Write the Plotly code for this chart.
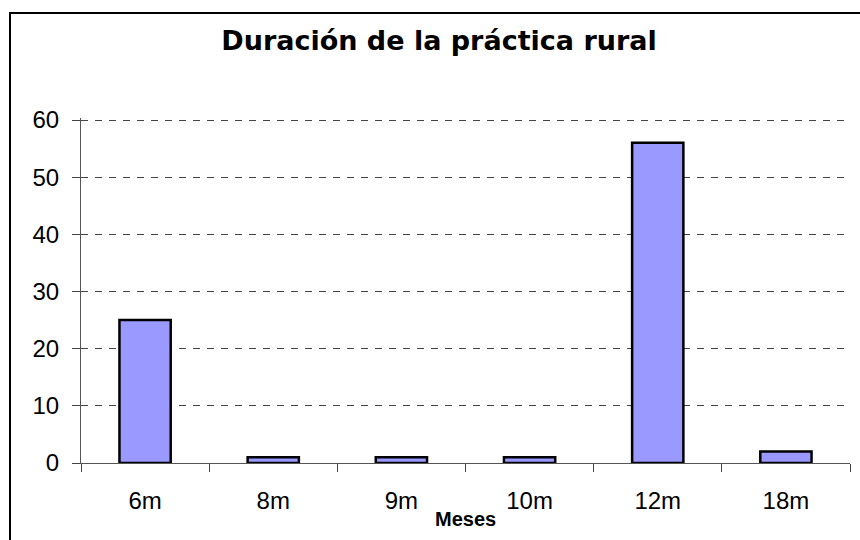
import plotly.graph_objects as go

categories = ["6m", "8m", "9m", "10m", "12m", "18m"]
values = [25, 1, 1, 1, 56, 2]
y_ticks = [0, 10, 20, 30, 40, 50, 60]

W, H = 860, 540
L, R, T, B = 81, 10, 118, 77
pw, ph = W - L - R, H - T - B

fig = go.Figure()
fig.add_trace(go.Bar(
    x=categories, y=values, width=0.4,
    marker=dict(color="#9999FF", line=dict(color="black", width=2.5)),
))

fig.update_layout(
    width=W, height=H,
    margin=dict(l=L, r=R, t=T, b=B),
    paper_bgcolor="white", plot_bgcolor="white",
    showlegend=False,
    font=dict(family="Liberation Sans, Arial, sans-serif", size=24, color="black"),
    title=dict(
        text="<b>Duración de la práctica rural</b>",
        font=dict(family="DejaVu Sans, Verdana, sans-serif", size=27, color="black"),
        xref="container", x=439 / W, xanchor="center",
        yref="container", y=1 - 41 / H, yanchor="middle",
    ),
    xaxis=dict(
        type="category", tickson="boundaries", ticks="outside", ticklen=8,
        tickcolor="#444", showline=True, linecolor="#555", linewidth=1,
        showgrid=False, ticklabelstandoff=16, tickfont=dict(size=24),
    ),
    yaxis=dict(
        range=[0, 60.35], tickvals=y_ticks, ticks="outside", ticklen=8,
        tickcolor="#444", showline=True, linecolor="#555", linewidth=1,
        showgrid=True, gridcolor="#444", griddash="7px,7px", gridwidth=1,
        zeroline=False, ticklabelstandoff=8, tickfont=dict(size=24),
    ),
    shapes=[dict(
        type="rect", xref="paper", yref="paper",
        x0=(10 - L) / pw, x1=1.05, y0=-0.3, y1=(T + ph - 13) / ph,
        line=dict(color="black", width=2), fillcolor="rgba(0,0,0,0)",
        layer="below",
    )],
    annotations=[dict(
        text="<b>Meses</b>", xref="paper", yref="paper",
        x=0.5, y=(ph - (519 - T)) / ph, xanchor="center", yanchor="middle",
        showarrow=False, font=dict(size=20, color="black"),
    )],
)

fig.write_html("out.html", config={"displayModeBar": False},
               post_script="document.body.style.margin='0';")
